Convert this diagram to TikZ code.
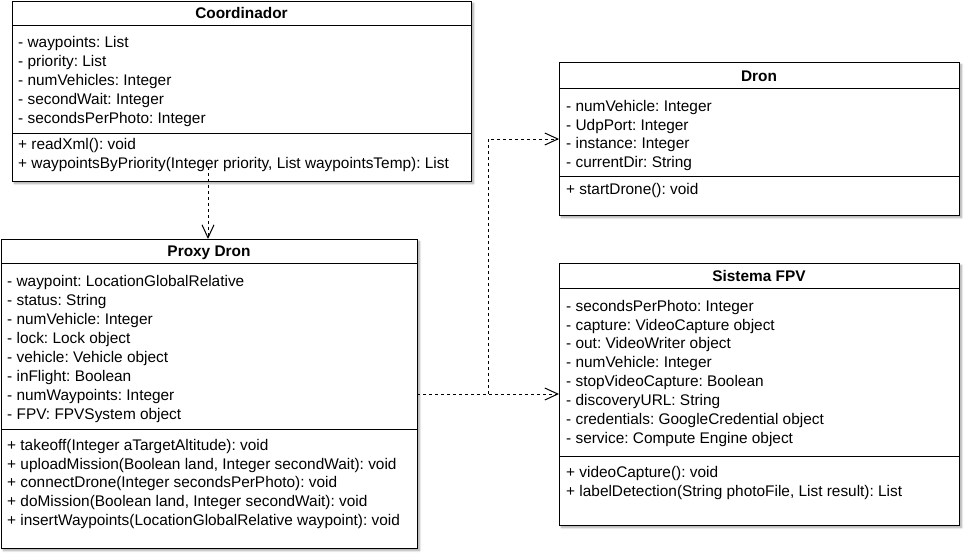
\documentclass[tikz,border=0pt]{standalone}
\usepackage{fontspec}
\setmainfont{Liberation Sans}
\usetikzlibrary{arrows.meta,shadows.blur}
\frenchspacing

\begin{document}
\begin{tikzpicture}[x=1pt,y=-1pt,
   classbox/.style={draw=black, line width=1pt, fill=white, inner sep=0pt, outer sep=0pt, anchor=north west,
      blur shadow={shadow xshift=2.5pt, shadow yshift=-2.5pt, shadow blur steps=6, shadow opacity=35}},
   classtitle/.style={inner sep=0pt, anchor=base, font=\fontsize{15.4}{18.9}\selectfont\bfseries},
   members/.style={inner sep=0pt, anchor=north west, align=left, font=\fontsize{15.4}{18.9}\selectfont,
      execute at begin node=\strut},
   dep/.style={line width=1pt, dash pattern=on 3pt off 3pt, -{Straight Barb[length=13pt,width=12pt,line width=1pt]}}]
   \useasboundingbox (0,0) rectangle (964,554);

   % Coordinador
   \node[classbox, minimum width=459pt, minimum height=180pt] (coordinador) at (12,1) {};
   \node[classtitle] (coordinadortitle) at (241.5,18.5) {Coordinador};
   \draw[line width=1pt] (coordinador.west |- 0,25) -- (coordinador.east |- 0,25);
   \node[members] (coordinadorattr) at (18,36.6) {- waypoints: List\\- priority: List\\- numVehicles: Integer\\- secondWait: Integer\\- secondsPerPhoto: Integer};
   \draw[line width=1pt] (coordinador.west |- 0,133) -- (coordinador.east |- 0,133);
   \node[members] (coordinadormeth) at (18,138) {+ readXml(): void\\+ waypointsByPriority(Integer priority, List waypointsTemp): List};

   % Proxy Dron
   \node[classbox, minimum width=416pt, minimum height=309pt] (proxy) at (1,239) {};
   \node[classtitle] (proxytitle) at (209,256.5) {Proxy Dron};
   \draw[line width=1pt] (proxy.west |- 0,263) -- (proxy.east |- 0,263);
   \node[members] (proxyattr) at (7,275.5) {- waypoint: LocationGlobalRelative\\- status: String\\- numVehicle: Integer\\- lock: Lock object\\- vehicle: Vehicle object\\- inFlight: Boolean\\- numWaypoints: Integer\\- FPV: FPVSystem object};
   \draw[line width=1pt] (proxy.west |- 0,429) -- (proxy.east |- 0,429);
   \node[members] (proxymeth) at (7,438.8) {+ takeoff(Integer aTargetAltitude): void\\+ uploadMission(Boolean land, Integer secondWait): void\\+ connectDrone(Integer secondsPerPhoto): void\\+ doMission(Boolean land, Integer secondWait): void\\+ insertWaypoints(LocationGlobalRelative waypoint): void};

   % Dron
   \node[classbox, minimum width=400pt, minimum height=153pt] (dron) at (559,62) {};
   \node[classtitle] (drontitle) at (759,81.2) {Dron};
   \draw[line width=1pt] (dron.west |- 0,88) -- (dron.east |- 0,88);
   \node[members] (dronattr) at (566,99.8) {- numVehicle: Integer\\- UdpPort: Integer\\- instance: Integer\\- currentDir: String};
   \draw[line width=1pt] (dron.west |- 0,176) -- (dron.east |- 0,176);
   \node[members] (dronmeth) at (566,181.5) {+ startDrone(): void};

   % Sistema FPV
   \node[classbox, minimum width=400pt, minimum height=262pt] (fpv) at (559,263) {};
   \node[classtitle] (fpvtitle) at (759,281.2) {Sistema FPV};
   \draw[line width=1pt] (fpv.west |- 0,288) -- (fpv.east |- 0,288);
   \node[members] (fpvattr) at (566,299.8) {- secondsPerPhoto: Integer\\- capture: VideoCapture object\\- out: VideoWriter object\\- numVehicle: Integer\\- stopVideoCapture: Boolean\\- discoveryURL: String\\- credentials: GoogleCredential object\\- service: Compute Engine object};
   \draw[line width=1pt] (fpv.west |- 0,456) -- (fpv.east |- 0,456);
   \node[members] (fpvmeth) at (566,466.5) {+ videoCapture(): void\\+ labelDetection(String photoFile, List result): List};

   % dependencies
   \coordinate (depstart) at (208,167);
   \coordinate (junction) at (488,394);
   \draw[dep] (depstart) -- (depstart |- proxy.north);
   \draw[dep] (proxy.east |- junction) -- (fpv.west |- junction);
   \draw[dep] (junction) |- (dron.west |- 0,139);

\end{tikzpicture}
\end{document}
